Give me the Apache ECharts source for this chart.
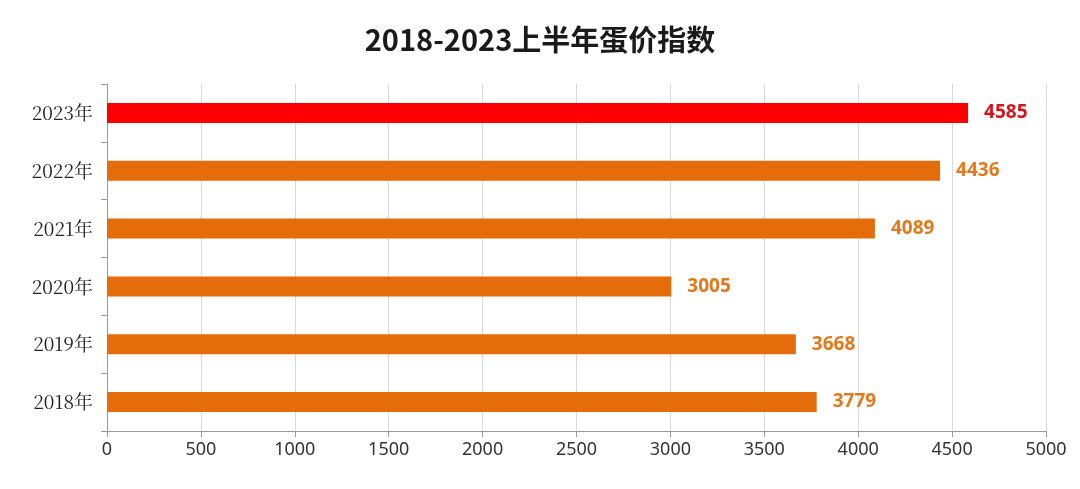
<!DOCTYPE html>
<html><head><meta charset="utf-8">
<script src="https://cdn.jsdelivr.net/npm/echarts@6/dist/echarts.min.js"></script>
<style>html,body{margin:0;padding:0;background:#fff}#c{width:1080px;height:489px}</style>
</head><body><div id="c"></div>
<script>
const categories = ['2018年','2019年','2020年','2021年','2022年','2023年'];
const values = [3779,3668,3005,4089,4436,4585];
const barColors = ['#e46c0a','#e46c0a','#e46c0a','#e46c0a','#e46c0a','#ff0000'];
const labelColors = ['#e2791b','#e2791b','#e2791b','#e2791b','#e2791b','#d7141a'];
const chart = echarts.init(document.getElementById('c'));
chart.setOption({
  backgroundColor:'#fff',
  title:{text:'2018-2023上半年蛋价指数',left:'center',top:20,textStyle:{fontSize:29,fontWeight:'bold',color:'#1a1a1a',fontFamily:'Noto Sans CJK SC'}},
  grid:{left:107,right:34,top:84,bottom:58},
  xAxis:{type:'value',min:0,max:5000,interval:500,
    axisLine:{show:true,lineStyle:{color:'#999'}},axisTick:{show:true,length:6,lineStyle:{color:'#999'}},
    splitLine:{lineStyle:{color:'#d9d9d9'}},
    axisLabel:{fontSize:18,color:'#333',margin:10,fontFamily:'Noto Sans',formatter:v=>String(v)}},
  yAxis:{type:'category',data:categories,
    axisLine:{lineStyle:{color:'#999'}},axisTick:{show:true,length:6,lineStyle:{color:'#999'}},
    axisLabel:{fontSize:19,color:'#222',margin:14,fontFamily:'Noto Serif CJK SC, Liberation Serif, serif'}},
  series:[{type:'bar',barWidth:20,
    data:values.map((v,i)=>({value:v,itemStyle:{color:barColors[i]},label:{color:labelColors[i]}})),
    label:{show:true,position:'right',distance:16,fontSize:19,fontWeight:'bold',fontFamily:'Noto Sans'}}]
});
</script></body></html>
